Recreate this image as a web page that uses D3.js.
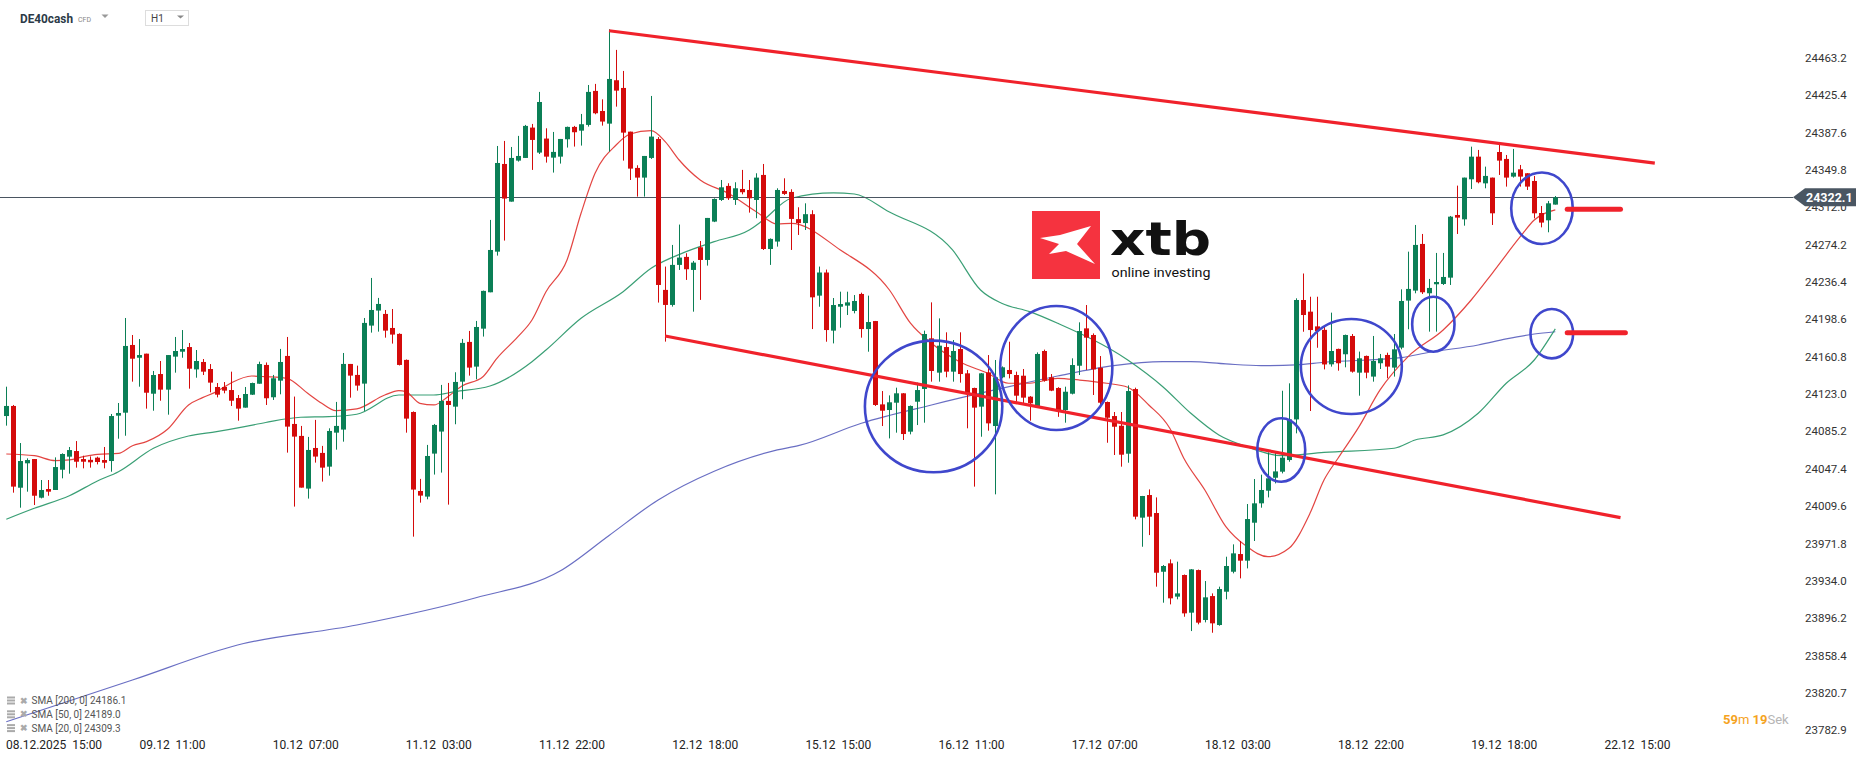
<!DOCTYPE html>
<html><head><meta charset="utf-8">
<script src="https://cdn.jsdelivr.net/npm/d3@7"></script>
<style>
body{margin:0;background:#fff;}
svg{display:block;font-family:Roboto, "Noto Sans", sans-serif;}
</style>
</head><body>
<svg id="chart" width="1866" height="761"></svg>
<script>
// ---------- DATA ----------
const openP = [24100.8,24111.0,24028.3,24053.0,24057.3,24018.2,24027.0,24026.0,24046.5,24059.7,24065.4,24057.3,24056.5,24058.7,24056.3,24055.3,24101.2,24104.2,24172.7,24159.8,24163.9,24123.4,24143.3,24127.5,24160.9,24165.9,24170.6,24148.0,24155.5,24148.4,24130.2,24130.2,24127.1,24119.0,24109.3,24122.4,24133.5,24152.5,24119.8,24136.6,24161.6,24092.8,24080.7,24027.4,24068.5,24063.5,24049.6,24084.0,24087.1,24153.5,24142.4,24133.6,24192.3,24207.5,24204.1,24189.9,24183.9,24157.6,24104.9,24025.0,24019.3,24062.8,24085.1,24116.1,24110.3,24135.6,24175.8,24150.8,24189.2,24226.0,24267.1,24355.8,24317.7,24359.2,24361.9,24392.6,24367.3,24381.5,24362.2,24363.2,24380.8,24393.3,24389.5,24395.3,24429.7,24409.4,24396.6,24440.5,24432.7,24388.5,24351.8,24342.0,24361.9,24381.1,24228.4,24213.2,24253.7,24261.8,24248.6,24271.5,24258.7,24297.5,24319.4,24333.6,24319.4,24330.5,24329.5,24319.4,24344.7,24269.8,24277.3,24328.5,24327.5,24300.0,24296.0,24305.0,24222.6,24246.0,24187.2,24211.4,24212.5,24207.1,24224.3,24188.8,24196.9,24112.6,24106.9,24114.3,24123.8,24085.0,24115.3,24128.2,24179.4,24144.7,24170.6,24145.7,24168.6,24144.0,24129.2,24110.3,24145.0,24090.7,24140.0,24147.4,24142.3,24141.6,24120.4,24111.0,24166.6,24140.0,24129.2,24106.9,24123.4,24151.7,24189.5,24182.8,24149.7,24115.0,24100.8,24091.0,24062.7,24128.1,23998.0,24020.9,24002.7,23943.3,23951.8,23918.1,23940.0,23901.9,23945.0,23894.5,23918.7,23889.4,23923.1,23943.3,23961.2,23954.5,23992.9,24012.5,24025.3,24038.4,24044.5,24056.3,24097.4,24218.2,24206.4,24191.5,24188.0,24153.1,24168.7,24163.3,24181.8,24144.7,24161.6,24140.7,24154.2,24162.6,24149.8,24170.0,24217.6,24227.7,24274.9,24225.0,24234.1,24234.4,24240.8,24304.2,24299.8,24340.3,24363.2,24336.2,24342.0,24367.9,24360.9,24343.0,24350.4,24346.4,24338.6,24306.2,24298.8,24314.7];
const highP = [24130.5,24112.0,24073.5,24058.0,24057.3,24036.1,24036.1,24059.0,24063.1,24069.5,24075.5,24060.7,24060.0,24059.7,24069.5,24102.9,24114.0,24200.0,24182.8,24178.7,24163.9,24146.4,24156.5,24162.5,24180.8,24187.8,24174.7,24167.6,24158.5,24153.4,24134.2,24135.2,24145.7,24122.1,24130.2,24134.6,24155.8,24155.0,24142.4,24168.7,24180.8,24120.5,24090.8,24079.7,24096.9,24070.6,24088.4,24115.1,24164.6,24153.5,24151.8,24200.0,24240.5,24220.3,24208.1,24209.1,24184.5,24158.0,24105.5,24037.2,24071.6,24092.8,24132.3,24134.3,24145.1,24178.8,24186.9,24197.0,24227.7,24299.2,24374.0,24379.1,24373.0,24384.2,24395.3,24396.3,24428.7,24391.9,24388.2,24381.1,24393.6,24394.3,24406.4,24435.7,24436.8,24421.2,24492.1,24471.2,24449.9,24388.5,24354.5,24363.9,24424.6,24383.0,24252.0,24273.9,24294.5,24265.5,24257.7,24277.9,24301.2,24321.0,24339.6,24336.3,24337.3,24349.8,24339.6,24346.4,24355.8,24280.5,24331.2,24341.3,24330.2,24312.0,24316.0,24309.0,24252.0,24249.0,24220.2,24226.6,24226.6,24223.2,24225.6,24222.6,24197.0,24126.1,24121.7,24129.5,24124.0,24111.5,24134.6,24187.2,24215.8,24199.6,24185.5,24177.7,24185.5,24147.4,24129.5,24144.3,24162.5,24157.5,24151.0,24176.0,24145.7,24148.4,24121.0,24165.2,24168.0,24143.3,24130.0,24130.5,24159.2,24195.6,24213.1,24184.4,24161.5,24115.5,24104.9,24104.9,24131.8,24129.5,24020.0,24026.6,24018.5,23950.1,23955.8,23953.5,23940.5,23946.0,23945.5,23933.9,23921.4,23928.2,23958.5,23971.0,23974.4,24011.8,24037.1,24041.5,24064.1,24063.7,24126.4,24133.9,24219.9,24245.0,24221.5,24221.5,24192.0,24205.4,24169.0,24183.2,24183.8,24166.0,24162.0,24181.8,24163.6,24164.9,24183.8,24229.0,24267.1,24294.1,24285.0,24239.5,24265.8,24265.8,24303.2,24333.9,24342.0,24373.3,24370.0,24353.1,24342.0,24377.4,24364.9,24371.0,24354.8,24346.5,24343.7,24313.3,24318.4,24323.4];
const lowP = [24091.1,24023.3,24008.1,24024.3,24010.8,24017.5,24020.2,24026.0,24037.8,24042.5,24048.6,24047.9,24048.6,24051.9,24047.9,24044.5,24077.9,24080.9,24135.6,24130.5,24108.3,24106.2,24116.3,24102.2,24144.7,24159.8,24128.5,24139.6,24142.3,24124.8,24119.7,24123.8,24111.0,24096.1,24109.3,24122.1,24133.5,24112.0,24117.1,24122.8,24063.8,24009.2,24028.4,24017.3,24053.7,24034.5,24040.5,24066.8,24074.9,24119.4,24126.5,24106.0,24185.2,24186.2,24180.1,24174.1,24152.0,24084.0,23978.8,24013.2,24016.6,24041.6,24043.6,24011.2,24092.5,24117.8,24141.7,24138.0,24181.2,24226.0,24263.1,24278.3,24317.7,24358.2,24361.9,24349.8,24365.9,24357.2,24347.1,24356.2,24372.4,24373.4,24374.4,24393.6,24406.1,24394.6,24368.3,24413.8,24359.2,24339.6,24322.8,24322.8,24360.9,24215.6,24176.1,24211.5,24248.6,24238.5,24206.4,24218.3,24253.0,24297.0,24318.4,24319.4,24314.4,24325.1,24306.6,24300.9,24268.8,24253.7,24272.2,24324.5,24268.8,24284.0,24289.0,24188.8,24211.4,24176.0,24174.3,24190.2,24203.0,24204.7,24180.1,24165.9,24111.0,24090.7,24078.2,24084.0,24076.6,24082.3,24091.7,24094.1,24135.6,24135.6,24140.0,24135.6,24134.6,24088.4,24029.4,24079.9,24086.0,24021.6,24139.0,24138.9,24115.3,24113.7,24096.1,24110.0,24135.6,24126.0,24100.0,24094.1,24122.7,24142.3,24147.4,24122.1,24110.9,24073.8,24061.4,24049.6,24053.6,23996.3,23968.6,23980.4,23928.2,23912.0,23910.3,23915.4,23897.8,23883.3,23890.1,23892.1,23881.6,23888.7,23915.4,23941.7,23936.6,23946.7,23974.4,24008.1,24018.5,24032.7,24042.8,24054.6,24083.3,24186.1,24105.9,24169.9,24148.0,24150.8,24146.7,24150.1,24144.7,24121.4,24139.0,24135.6,24148.4,24139.0,24140.7,24168.3,24188.6,24225.0,24224.3,24186.2,24186.2,24233.4,24233.4,24285.0,24293.4,24330.5,24336.2,24331.2,24294.1,24344.7,24332.9,24342.0,24332.9,24329.5,24300.8,24291.7,24286.7,24314.7];
const closeP = [24111.0,24029.4,24055.3,24056.3,24020.2,24026.0,24024.3,24049.2,24062.4,24066.4,24054.6,24054.6,24054.0,24054.3,24053.6,24100.8,24103.9,24171.7,24158.8,24162.5,24124.4,24142.3,24127.5,24162.5,24166.6,24168.6,24148.7,24156.5,24145.7,24134.6,24122.4,24126.5,24116.3,24108.3,24123.1,24134.2,24153.4,24118.8,24139.0,24155.5,24090.1,24080.0,24028.4,24066.5,24059.8,24048.6,24085.7,24090.8,24153.5,24141.7,24131.6,24195.0,24208.1,24214.2,24187.2,24183.2,24152.5,24098.2,24026.4,24020.3,24060.4,24091.8,24116.1,24112.0,24135.3,24174.8,24149.8,24190.9,24227.4,24268.8,24356.8,24320.8,24361.9,24363.9,24394.3,24380.1,24418.5,24363.2,24368.0,24381.1,24393.3,24387.9,24396.0,24428.7,24407.1,24398.7,24441.8,24430.0,24387.5,24351.1,24342.0,24363.9,24383.5,24233.4,24213.2,24253.7,24261.1,24249.3,24256.0,24258.7,24301.2,24320.4,24332.2,24321.1,24331.2,24327.2,24321.1,24342.0,24269.8,24280.0,24329.5,24325.5,24300.2,24296.0,24305.0,24220.9,24246.0,24187.8,24213.1,24214.1,24215.8,24217.2,24188.8,24195.9,24112.0,24106.2,24114.7,24123.8,24082.6,24111.0,24127.1,24183.8,24146.4,24172.0,24145.7,24166.6,24143.3,24123.8,24109.3,24144.0,24093.4,24140.0,24150.1,24143.3,24121.4,24119.4,24113.7,24163.6,24136.6,24126.5,24106.9,24125.4,24152.4,24186.8,24180.1,24148.0,24114.3,24099.1,24090.0,24061.7,24126.1,23999.0,24019.9,23999.0,23942.3,23949.1,23916.4,23921.4,23901.2,23945.7,23891.8,23917.4,23891.1,23925.8,23949.1,23961.9,23954.5,23996.6,24012.5,24026.0,24037.8,24044.8,24058.7,24097.4,24218.2,24203.0,24187.8,24186.8,24153.0,24166.6,24154.2,24182.8,24145.7,24159.2,24144.7,24156.5,24159.2,24150.8,24168.3,24217.2,24229.4,24273.9,24226.0,24230.4,24236.4,24241.5,24302.5,24301.5,24342.0,24363.2,24337.3,24343.7,24305.9,24359.2,24342.0,24347.0,24343.0,24332.9,24305.9,24296.5,24316.0,24322.1];

// moving averages (candle index, value)
const sma20Idx = [0,4,7,9,11,13,16,18,20,23,26,28,30,32,35,37,40,43,45,47,50,54,56,57,59,61,63,65,68,70,73,75,77,80,82,84,87,89,92,94,96,99,103,107,110,112,119,126,129,132,136,140,143,146,150,153,157,160,163,166,168,171,174,177,180,183,186,188,190,193,196,200,205,209,212,216,218,221];
const sma20Val = [24062.4,24060.7,24055.7,24056.4,24059.7,24062.1,24063.1,24070.8,24074.9,24087.4,24112.0,24119.4,24125.5,24134.0,24141.3,24140.6,24139.0,24123.8,24113.7,24106.2,24108.0,24122.1,24126.5,24125.5,24113.7,24112.0,24120.4,24131.2,24140.6,24159.2,24181.1,24198.0,24226.6,24258.7,24305.9,24346.4,24375.0,24386.1,24389.5,24378.4,24359.8,24339.6,24326.2,24307.5,24295.1,24295.8,24268.8,24228.3,24194.7,24174.4,24155.8,24144.1,24134.0,24134.0,24139.0,24137.3,24134.0,24129.9,24112.0,24088.4,24058.1,24026.0,23988.9,23968.7,23958.5,23967.0,24002.4,24036.1,24058.1,24090.1,24127.2,24160.9,24187.9,24218.2,24245.2,24282.2,24299.1,24309.3];
const sma50Idx = [0,4,9,13,16,21,26,30,34,37,42,46,50,56,61,64,69,75,77,82,88,92,97,101,106,108,112,118,121,126,135,139,142,146,150,160,165,169,173,177,182,188,198,201,205,210,214,218,221];
const sma50Val = [23996.4,24007.5,24020.2,24035.1,24044.5,24068.2,24080.6,24085.0,24090.1,24094.3,24099.6,24100.2,24102.6,24122.1,24122.1,24125.5,24131.2,24155.8,24167.6,24199.7,24226.6,24250.3,24267.1,24277.2,24289.0,24299.1,24321.1,24326.5,24325.4,24307.2,24268.8,24228.3,24214.9,24206.4,24194.6,24157.5,24130.5,24103.6,24081.7,24069.8,24060.7,24064.0,24068.2,24076.6,24081.7,24103.6,24134.0,24157.5,24189.0];
const sma200Idx = [0,18,33,50,67,79,86,93,101,110,113,122,132,141,150,158,165,169,174,179,184,188,199,203,210,214,218,221];
const sma200Val = [23791.6,23833.8,23869.2,23889.4,23917.0,23944.0,23980.0,24015.9,24045.0,24066.5,24070.8,24093.5,24112.0,24127.2,24141.3,24151.8,24155.8,24155.8,24153.5,24151.8,24152.5,24155.2,24159.9,24165.3,24172.7,24178.8,24183.8,24186.1];

const xTickIdx = [5,24,43,62,81,100,119,138,157,176,195,214,233];
const xTickLabels = ["08.12.2025  15:00","09.12  11:00","10.12  07:00","11.12  03:00","11.12  22:00","12.12  18:00","15.12  15:00","16.12  11:00","17.12  07:00","18.12  03:00","18.12  22:00","19.12  18:00","22.12  15:00"];
const yTicks = [24463.2,24425.4,24387.6,24349.8,24312.0,24274.2,24236.4,24198.6,24160.8,24123.0,24085.2,24047.4,24009.6,23971.8,23934.0,23896.2,23858.4,23820.7,23782.9];
const lastPrice = 24322.1;

// annotations (candle index / price)
const trendFromIdx = [86, 94];
const trendFromVal = [24490.6, 24181.8];
const trendToIdx = [235.2, 230.3];
const trendToVal = [24356.6, 23998.0];
const ringIdx = [132.3,149.8,181.9,191.9,203.6,219.1,220.5];
const ringVal = [24110.5,24149.4,24066.5,24150.9,24193.7,24311.0,24184.1];
const ringHalfW = [9.8,8.0,3.42,7.2,3.02,4.39,3.04];   // in candles
const ringHalfH = [66.6,62.7,32.1,48.1,27.8,36.1,25.0]; // in price points
const markFromIdx = [222.7,222.7];
const markToIdx = [230.3,231.0];
const markVal = [24310.0,24185.0];
const legendNames = ["SMA [200, 0]","SMA [50, 0]","SMA [20, 0]"];
const legendValues = [24186.1,24189.0,24309.3];

// ---------- CHART ----------
const W = 1866, H = 761;
const svg = d3.select("#chart");
svg.append("rect").attr("width",W).attr("height",H).attr("fill","#fff");

const x = d3.scaleLinear().domain([0,221]).range([6.3,1555.3]);
const y = d3.scaleLinear().domain([23782.9,24463.2]).range([730.3,57.8]);
const plotRight = 1793;

const GREEN = "#0b7f56", RED = "#d40b0b";

// SMA lines
const lineGen = d3.line().x(d=>x(d[0])).y(d=>y(d[1])).curve(d3.curveMonotoneX);
function drawSMA(idx, vals, color, op){
  svg.append("path").datum(idx.map((d,i)=>[d,vals[i]]))
    .attr("d",lineGen).attr("fill","none").attr("stroke",color)
    .attr("stroke-width",1.2).attr("stroke-opacity",op);
}
drawSMA(sma200Idx, sma200Val, "#4f55b8", 0.85);
drawSMA(sma50Idx, sma50Val, "#2f9a6e", 0.95);
drawSMA(sma20Idx, sma20Val, "#e23b38", 0.95);

// current price line
svg.append("line").attr("x1",0).attr("x2",plotRight)
  .attr("y1",Math.round(y(lastPrice))+0.5).attr("y2",Math.round(y(lastPrice))+0.5)
  .attr("stroke","#4a5561").attr("stroke-width",1);

// candles
const candles = svg.append("g");
openP.forEach((o,i)=>{
  const c = closeP[i], hi = highP[i], lo = lowP[i];
  const col = c >= o ? GREEN : RED;
  const cx = Math.round(x(i));
  candles.append("rect").attr("x",cx).attr("width",1)
    .attr("y",y(hi)).attr("height",Math.max(1,y(lo)-y(hi))).attr("fill",col);
  const top = y(Math.max(o,c)), bot = y(Math.min(o,c));
  candles.append("rect").attr("x",cx-2).attr("width",5)
    .attr("y",top).attr("height",Math.max(1.5,bot-top)).attr("fill",col);
});

// trend lines
trendFromIdx.forEach((d,i)=>{
  svg.append("line").attr("x1",x(d)).attr("y1",y(trendFromVal[i]))
    .attr("x2",x(trendToIdx[i])).attr("y2",y(trendToVal[i]))
    .attr("stroke","#f0222b").attr("stroke-width",3.2);
});

// rings
ringIdx.forEach((d,i)=>{
  const rx = x(d+ringHalfW[i]) - x(d);
  const ry = y(ringVal[i]-ringHalfH[i]) - y(ringVal[i]);
  svg.append("ellipse").attr("cx",x(d)).attr("cy",y(ringVal[i]))
    .attr("rx",rx).attr("ry",ry).attr("fill","none")
    .attr("stroke","#3f47cc").attr("stroke-width",2.6);
});

// markers
markVal.forEach((v,i)=>{
  svg.append("line").attr("x1",x(markFromIdx[i])).attr("x2",x(markToIdx[i]))
    .attr("y1",y(v)).attr("y2",y(v))
    .attr("stroke","#f0222b").attr("stroke-width",5).attr("stroke-linecap","round");
});

// logo
const logo = svg.append("g").attr("transform","translate(1032,211)");
logo.append("rect").attr("width",68).attr("height",68).attr("fill","#f5333f");
logo.append("path").attr("d","M8,27 L28,24 L59,15 L45,33 L63,53 L34,40 L17,43 L27,33 Z").attr("fill","#fff");
svg.append("text").attr("x",1110).attr("y",255).attr("font-family","'DejaVu Sans', sans-serif")
  .attr("font-weight","bold").attr("font-size",47).attr("fill","#111")
  .attr("textLength",101).attr("lengthAdjust","spacingAndGlyphs").text("xtb");
svg.append("text").attr("x",1111.5).attr("y",276.5).attr("font-size",13.5).attr("fill","#111")
  .attr("textLength",99).attr("lengthAdjust","spacingAndGlyphs").text("online investing");

// y axis labels
const yAxis = svg.append("g");
yTicks.forEach(v=>{
  yAxis.append("text").attr("x",1805).attr("y",y(v)).attr("dy","0.35em")
    .attr("font-size",11.5).attr("fill","#333").text(d3.format(".1f")(v));
});

// current price label
const py = y(lastPrice);
svg.append("path").attr("d",`M1793,${py} L1805,${py-9} L1856,${py-9} L1856,${py+9} L1805,${py+9} Z`).attr("fill","#4a5662");
svg.append("text").attr("x",1806).attr("y",py).attr("dy","0.36em").attr("font-size",12.5)
  .attr("font-weight","bold").attr("fill","#fff").text(d3.format(".1f")(lastPrice));

// x axis labels
xTickIdx.forEach((d,i)=>{
  const t = svg.append("text").attr("y",749).attr("font-size",12).attr("fill","#222")
    .style("white-space","pre").text(xTickLabels[i]);
  if(i===0){ t.attr("x",6).attr("text-anchor","start"); }
  else { t.attr("x",x(d)-2).attr("text-anchor","middle"); }
});

// legend
legendNames.forEach((n,i)=>{
  const ly = 700.5 + i*13.8;
  const g = svg.append("g");
  g.append("rect").attr("x",7).attr("y",ly-4).attr("width",8).attr("height",2).attr("fill","#aaa");
  g.append("rect").attr("x",7).attr("y",ly-1).attr("width",8).attr("height",2).attr("fill","#aaa");
  g.append("rect").attr("x",7).attr("y",ly+2).attr("width",8).attr("height",2).attr("fill","#aaa");
  g.append("text").attr("x",19.5).attr("y",ly).attr("dy","0.35em").attr("font-size",9).attr("fill","#aaa").attr("font-weight","bold").text("✖");
  g.append("text").attr("x",31.5).attr("y",ly).attr("dy","0.35em").attr("font-size",10).attr("fill","#555")
    .text(n+" "+d3.format(".1f")(legendValues[i]));
});

// header
svg.append("text").attr("x",20).attr("y",23).attr("font-size",12.5).attr("font-weight","bold").attr("fill","#2c3a47")
  .attr("textLength",53).attr("lengthAdjust","spacingAndGlyphs").text("DE40cash");
svg.append("text").attr("x",78).attr("y",22).attr("font-size",7).attr("fill","#888").text("CFD");
svg.append("path").attr("d","M101.5,14.5 L108.5,14.5 L105,18 Z").attr("fill","#999");
svg.append("rect").attr("x",145.5).attr("y",10.5).attr("width",43).attr("height",15).attr("fill","#fff").attr("stroke","#ddd");
svg.append("text").attr("x",151).attr("y",22).attr("font-size",10).attr("fill","#444").text("H1");
svg.append("path").attr("d","M177,15.5 L184,15.5 L180.5,18.5 Z").attr("fill","#888");

// timer
const tm = svg.append("text").attr("x",1723).attr("y",724).attr("font-size",13);
tm.append("tspan").attr("fill","#f5a31e").attr("font-weight","bold").text("59");
tm.append("tspan").attr("fill","#f5a31e").text("m ");
tm.append("tspan").attr("fill","#f5a31e").attr("font-weight","bold").text("19");
tm.append("tspan").attr("fill","#b5b5b5").text("Sek");
</script>
</body></html>
